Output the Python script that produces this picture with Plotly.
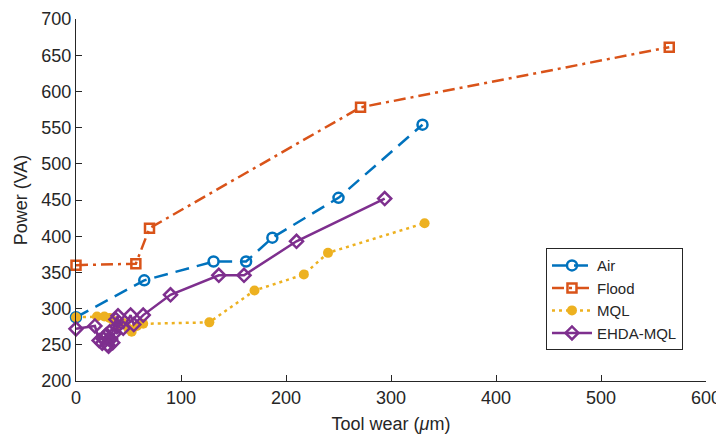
import plotly.graph_objects as go

air_x = [0, 65, 131, 162, 187, 250, 330]
air_y = [288, 339, 365, 365, 398, 453, 554]

flood_x = [0, 57, 70, 271, 565]
flood_y = [360, 362, 411, 578, 661]

mql_x = [0, 20, 27, 32, 36, 40, 45, 50, 53, 58, 64, 127, 170, 217, 240, 332]
mql_y = [288, 289, 289, 287, 283, 278, 280, 272, 268, 276, 279, 281, 325, 347, 377, 418]

ehda_x = [0, 18, 22, 25, 28, 30, 26, 32, 33, 29, 35, 36, 31, 38, 40, 39, 45, 52, 55, 64, 90, 136, 160, 210, 294]
ehda_y = [272, 276, 256, 252, 262, 250, 258, 268, 258, 264, 253, 265, 248, 285, 290, 275, 273, 291, 278, 291, 319, 346, 346, 393, 452]

font_family = "Liberation Sans, Arial, Helvetica, sans-serif"
txt = "#262626"

fig = go.Figure()
fig.add_trace(go.Scatter(
    x=air_x, y=air_y, name="Air", mode="lines+markers", cliponaxis=False,
    line=dict(color="#0072BD", width=2.5, dash="14px,8px"),
    marker=dict(symbol="circle-open", size=10, color="#0072BD", line=dict(width=2.5, color="#0072BD")),
))
fig.add_trace(go.Scatter(
    x=flood_x, y=flood_y, name="Flood", mode="lines+markers", cliponaxis=False,
    line=dict(color="#D95319", width=2.5, dash="12px,5px,3px,5px"),
    marker=dict(symbol="square-open", size=9, color="#D95319", line=dict(width=2.5, color="#D95319")),
))
fig.add_trace(go.Scatter(
    x=mql_x, y=mql_y, name="MQL", mode="lines+markers", cliponaxis=False,
    line=dict(color="#EDB120", width=2.5, dash="3px,4px"),
    marker=dict(symbol="circle", size=10, color="#EDB120"),
))
fig.add_trace(go.Scatter(
    x=ehda_x, y=ehda_y, name="EHDA-MQL", mode="lines+markers", cliponaxis=False,
    line=dict(color="#7E2F8E", width=2.5),
    marker=dict(symbol="diamond-open", size=10, color="#7E2F8E", line=dict(width=2.5, color="#7E2F8E")),
))

axis_common = dict(
    showline=True, linecolor=txt, linewidth=1, mirror=False,
    ticks="inside", ticklen=6, tickcolor=txt, tickwidth=1,
    showgrid=False, zeroline=False, automargin=False,
    ticklabeloverflow="allow",
    tickfont=dict(family=font_family, size=18, color=txt),
)

# page body has an 8px default margin; the figure is sized/offset to compensate
fig.update_layout(
    width=716, height=434,
    margin=dict(l=68, r=18, t=11, b=61),
    paper_bgcolor="white", plot_bgcolor="white",
    font=dict(family=font_family, color=txt),
    xaxis=dict(range=[0, 600], tickvals=[0, 100, 200, 300, 400, 500, 600],
               title=dict(text="Tool wear (<i>μ</i>m)", font=dict(size=18, family=font_family, color=txt), standoff=10),
               **axis_common),
    yaxis=dict(range=[200, 700], tickvals=list(range(200, 701, 50)),
               title=dict(text="Power (VA)", font=dict(size=18, family=font_family, color=txt), standoff=9),
               **axis_common),
    legend=dict(x=0.746, y=0.367, xanchor="left", yanchor="top",
                bordercolor=txt, borderwidth=1, bgcolor="white",
                font=dict(family=font_family, size=15, color=txt),
                tracegroupgap=0, itemwidth=40),
    showlegend=True,
)

fig.write_html("out.html")
